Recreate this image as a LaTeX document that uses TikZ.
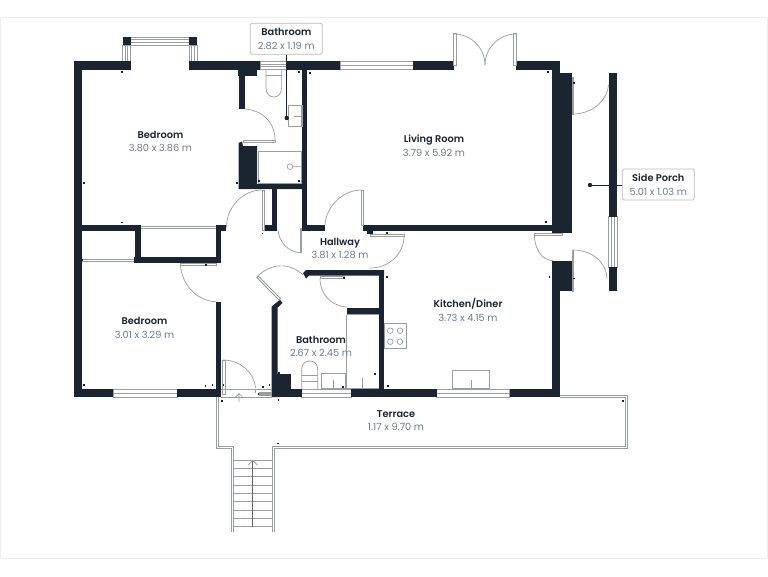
\documentclass[tikz,border=0pt]{standalone}
\usepackage{fontspec}
\setmainfont{Poppins}
\definecolor{wallc}{HTML}{1B2431}
\definecolor{dimc}{HTML}{6F7C8C}
\definecolor{linec}{HTML}{9A9EA3}
\definecolor{framec}{HTML}{EEEEEE}
\tikzset{
  wall/.style={fill=wallc,draw=none},
  glass/.style={draw=linec,line width=0.7pt,fill=white},
  thin grey/.style={draw=linec,line width=0.7pt},
  heavy grey/.style={draw=linec,line width=1.3pt},
  room/.style={align=center,inner sep=0pt,text=wallc,font=\fontsize{9.8}{13.7}\selectfont},
  tag/.style={room,draw=linec!70,line width=0.7pt,rounded corners=1.5pt,fill=white,minimum width=72pt,minimum height=31pt},
  pin/.style={draw=wallc,line width=0.6pt},
  tick/.style={fill=wallc,draw=none},
}
\newcommand{\rname}[1]{{\fontspec{Poppins SemiBold}#1}}
\newcommand{\rdim}[1]{{\color{dimc}#1}}
\newcommand{\wbar}[4]{\fill[wall] (#1,#2) rectangle (#3,#4);}
\begin{document}
\begin{tikzpicture}[x=1pt,y=-1pt]
\useasboundingbox (0,0) rectangle (768,576);
\fill[white] (0,0) rectangle (768,576);
\draw[framec,line width=1pt] (0.5,17.5) rectangle (767.3,558);

% terrace and stairs
\draw[thin grey] (560,395) -- (627.7,395) -- (627.7,448.3) -- (274,448.3) -- (274,531.7)
  (231,531.7) -- (231,448.3) -- (216.7,448.3) -- (216.7,397);
\draw[thin grey] (560,397) -- (625.7,397) -- (625.7,446.3) -- (272,446.3) -- (272,531.7)
  (233,531.7) -- (233,446.3) -- (218.7,446.3) -- (218.7,397);
\foreach \y in {460,468.3,476.7,485,493.3,501.7,510,518.3,526.7}
  \draw[thin grey] (233,\y) -- (272,\y);
\draw[draw=wallc!70,line width=0.5pt] (252.7,460) -- (252.7,526.7);
\draw[thin grey] (248,465) -- (252.7,460.5) -- (257.4,465);
\draw[thin grey] (239,402) -- (239,393.5) (234.5,398) -- (239,393.5) -- (243.5,398);

% windows
\foreach \a/\b/\c/\d in {130.5/37/189/45, 122.5/45/130.5/61, 189/45/197/61, 260/61/287/69.5, 340/61/413/69.5, 113/389/177/397, 301.7/389/351/397, 436.7/389/509.7/397, 608.7/216.7/617/267}
  \draw[glass] (\a,\b) rectangle (\c,\d);
\draw[thin grey] (130.5,39.7) -- (189,39.7) (130.5,42.3) -- (189,42.3)
  (125.2,45) -- (125.2,61) (127.8,45) -- (127.8,61)
  (191.7,45) -- (191.7,61) (194.3,45) -- (194.3,61)
  (260,64) -- (287,64) (260,66.7) -- (287,66.7)
  (340,65) -- (413,65)
  (113,393) -- (177,393) (301.7,393) -- (351,393) (436.7,393) -- (509.7,393)
  (611.5,216.7) -- (611.5,267) (614.2,216.7) -- (614.2,267);
\draw[thin grey] (82,259) -- (133.5,259) (82,261) -- (133.5,261)
  (141,226) -- (216,226) (141,228) -- (216,228);

% walls
\wbar{73.5}{61}{82}{397}
\wbar{73.5}{61}{130.5}{69.5}
\wbar{189}{61}{260}{69.5}
\wbar{122.5}{37}{130.5}{45}
\wbar{189}{37}{197}{45}
\wbar{287}{61}{340}{69.5}
\wbar{413}{61}{453.5}{69.5}
\wbar{516}{61}{560}{69.5}
\wbar{238}{69}{257}{76}
\wbar{238.5}{76}{244.5}{109}
\fill[wall] (238.5,143) -- (242,141.5) -- (243,146) -- (257,146) -- (257,184) -- (302,184) -- (302,189) -- (238.5,189) -- cycle;
\wbar{301.7}{61}{307}{231}
\wbar{272}{189}{277}{231}
\wbar{264}{225}{277}{231}
\wbar{302}{225}{325}{231}
\wbar{362.7}{225}{552}{230.7}
\wbar{367}{230}{373}{234}
\wbar{552}{61}{560}{233}
\wbar{560}{72.5}{572}{233}
\wbar{552}{260.7}{572}{291}
\wbar{552}{291}{560}{397}
\wbar{608.7}{72.7}{617}{216.7}
\wbar{608.7}{267}{617}{291}
\wbar{82}{225}{141}{231}
\wbar{135}{225}{141}{263}
\wbar{133.5}{257.3}{220.7}{263}
\wbar{215.7}{225}{220.7}{263}
\wbar{215.7}{225}{226}{231}
\wbar{215.7}{302}{220.7}{397}
\wbar{73.5}{389}{113}{397}
\wbar{177}{389}{221}{397}
\wbar{272}{389}{301.7}{397}
\wbar{272}{373.5}{291}{397}
\fill[wall] (271.7,397) -- (271.7,306.5) -- (280,299.7) -- (282.5,303) -- (277.7,307.5) -- (277.7,397) -- cycle;
\fill[wall] (303,273) -- (306,270) -- (384,270) -- (384,275.7) -- (309,275.7) -- (306,278.5) -- cycle;
\wbar{378.7}{270}{384}{397}
\wbar{346.7}{307.5}{380}{314}
\wbar{351}{389}{436.7}{397}
\wbar{509.7}{389}{560}{397}

% doors
\draw[glass,line width=0.9pt] (262,190) -- (262,230) -- (264,230) -- (264,190) -- cycle;
\draw[thin grey] (262,190) .. controls (242,190) and (226.5,208) .. (226.5,227);
\draw[glass,line width=0.9pt] (300,228) -- (300,252.7) -- (301.7,252.7) -- (301.7,228);
\draw[thin grey] (300,252.7) .. controls (288,252) and (279,242) .. (278,230);
\draw[glass,line width=0.9pt] (361.7,190) -- (361.7,225) -- (363.5,225) -- (363.5,190) -- cycle;
\draw[thin grey] (361.7,190) .. controls (342,190) and (326,207) .. (325,225);
\draw[glass,line width=0.9pt] (370,234) -- (404,234) -- (404,236) -- (370,236) -- cycle;
\draw[thin grey] (404,236) .. controls (404,254) and (389,268) .. (370,268);
\draw[glass,line width=0.9pt] (256.7,277.5) -- (279,300) -- (280.5,298.5) -- (258.2,276) -- cycle;
\draw[thin grey] (257,277) .. controls (270,263) and (290,262) .. (303,275);
\draw[glass,line width=0.9pt] (320,276.5) -- (344,276.5) -- (344,278.5) -- (320,278.5) -- cycle;
\draw[thin grey] (320,278.5) .. controls (320,294) and (331,306) .. (346.7,307);
\draw[glass,line width=0.9pt] (180,263) rectangle (216,265.5);
\draw[thin grey] (180.5,265.5) .. controls (182,285) and (197,301) .. (216,301.7);
\draw[glass,line width=0.9pt] (243,140) rectangle (275,142.5);
\draw[thin grey] (275,140) .. controls (275,122) and (262,110) .. (244.5,109);
\draw[glass,line width=0.9pt] (534,233) rectangle (562,235.5);
\draw[thin grey] (534.3,235) .. controls (535,249) and (541,260) .. (553,260.7);
\draw[glass,line width=0.9pt] (572.2,77) rectangle (573.8,114);
\draw[thin grey] (573,114) .. controls (592,114) and (607,101) .. (608.5,85);
\draw[glass,line width=0.9pt] (572.2,250) rectangle (573.8,291);
\draw[thin grey] (573,250) .. controls (592,250) and (606,262) .. (607,278);
\draw[glass,line width=0.9pt] (453.5,33.7) rectangle (456,65);
\draw[thin grey] (454,34) .. controls (471,34) and (485,48) .. (485,65);
\draw[glass,line width=0.9pt] (513.5,33.7) rectangle (516,65);
\draw[thin grey] (516,34) .. controls (499,34) and (485,48) .. (485,65);
\draw[glass,line width=0.9pt] (222.3,360) rectangle (225,394);
\draw[thin grey] (223,360) .. controls (240,360) and (254,372) .. (255.5,388);
\draw[thin grey] (221,389) -- (272,389) (221,397.5) -- (272,397.5) (255,389) -- (255,393);
\fill[linec] (259,392) rectangle (272,395.5);

% fittings
\draw[thin grey] (266,70) -- (266,88) .. controls (266,100) and (281.6,100) .. (281.6,88) -- (281.6,70);
\draw[thin grey] (266,75) -- (281.6,75);
\draw[heavy grey] (288.5,105.5) rectangle (302,126.5);
\draw[thin grey] (294,116) -- (302,116);
\draw[heavy grey] (258.5,151.5) rectangle (301.5,183.5);
\draw[thin grey] (290,166.7) circle[radius=2.8] (292.8,166.7) -- (301.5,166.7);
\draw[thin grey] (301.7,389) -- (301.7,369) .. controls (301.7,358.3) and (317.7,358.3) .. (317.7,369) -- (317.7,389);
\draw[thin grey] (301.7,381.7) -- (317.7,381.7) (301.7,375) -- (317.7,375);
\draw[heavy grey] (321.7,373.3) rectangle (345.7,388.5);
\draw[thin grey] (333,380) -- (333,388.5);
\draw[heavy grey] (346.7,314.5) -- (346.7,388.5) -- (378.7,388.5);
\draw[thin grey] (346.7,314.5) -- (378.7,314.5);
\draw[thin grey] (362,378) -- (362,388.5);
\draw[heavy grey] (452.7,370.7) rectangle (489.3,388.5);
\draw[thin grey] (471,380) -- (471,388.5);
\draw[thin grey] (384.3,323) rectangle (406.7,348);
\foreach \p in {330.7,341.7} {
  \draw[thin grey] (390.3,\p) circle[radius=2.8];
  \draw[thin grey] (400,\p) circle[radius=2.8];
}

% small dimension ticks
\foreach \a/\b in {121.7/71.7,299/71.7,310/73,84/182.7,236.7/182.7,259/180.7,299/180.7,
 121.7/222.3,81.7/260,84/385,205.3/385.7,212.3/385,223.3/385,205.7/265,262.3/233.3,262.7/386.7,269.3/385,258.3/394,278.3/400,221.7/401,279/373,
 387/233,386.7/276.7,344/278,375/374,387.7/385.7,343/386.7,547.7/71.7,546/221.7,549.3/276.7,574/278.3,574/82.7,622.7/401,277.7/443.3}
  \fill[tick] (\a-0.8,\b-0.8) rectangle (\a+0.8,\b+0.8);

% labels
\coordinate (bathpin) at (286.7,118);
\coordinate (porchpin) at (590,185);
\node[tag] (bathtag) at (286.3,38.7) {\rname{Bathroom}\\\rdim{2.82 x 1.19 m}};
\node[tag] (porchtag) at (658.3,184.5) {\rname{Side Porch}\\\rdim{5.01 x 1.03 m}};
\draw[pin] (bathtag.south -| bathpin) -- (bathpin);
\draw[pin] (porchtag.west |- porchpin) -- (617,185);
\draw[pin] (608.7,185) -- (porchpin);
\fill[wallc] (bathpin) circle[radius=2.2];
\fill[wallc] (porchpin) circle[radius=2.2];
\node[room] (r1) at (160.5,141.5) {\rname{Bedroom}\\\rdim{3.80 x 3.86 m}};
\node[room] (r2) at (434,146) {\rname{Living Room}\\\rdim{3.79 x 5.92 m}};
\node[room] (r3) at (144.5,328) {\rname{Bedroom}\\\rdim{3.01 x 3.29 m}};
\node[room] (r4) at (340,248.5) {\rname{Hallway}\\\rdim{3.81 x 1.28 m}};
\node[room] (r5) at (321,346.5) {\rname{Bathroom}\\\rdim{2.67 x 2.45 m}};
\node[room] (r6) at (468,310) {\rname{Kitchen/Diner}\\\rdim{3.73 x 4.15 m}};
\node[room] (r7) at (396,420.5) {\rname{Terrace}\\\rdim{1.17 x 9.70 m}};
\end{tikzpicture}
\end{document}
